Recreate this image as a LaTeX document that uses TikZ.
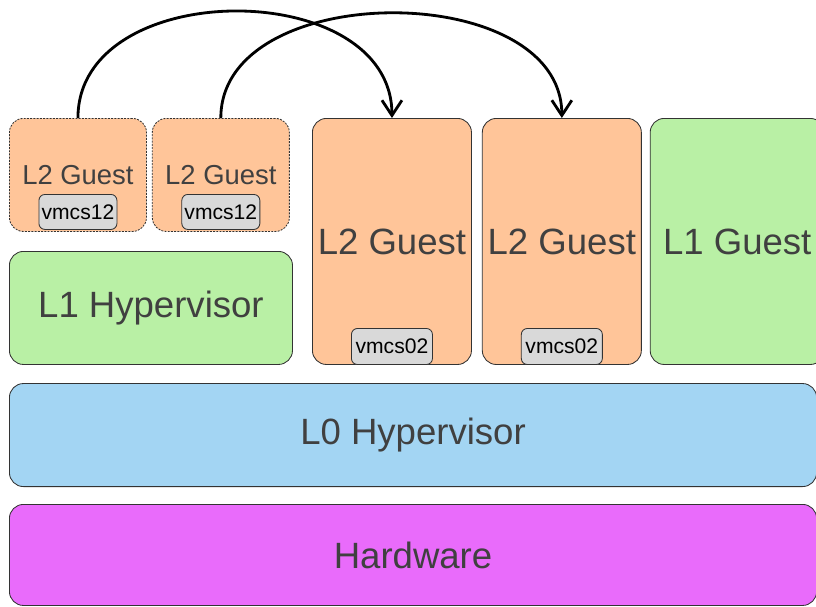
\documentclass[tikz,border=0pt]{standalone}
\usepackage{fontspec}
\setmainfont{Liberation Sans}
\usetikzlibrary{arrows.meta,positioning}
\definecolor{guestfill}{HTML}{FFC599}
\definecolor{l1fill}{HTML}{B9F0A5}
\definecolor{l0fill}{HTML}{A3D5F3}
\definecolor{hwfill}{HTML}{E96BFB}
\definecolor{vmcsfill}{HTML}{D9D9D9}
\definecolor{labelgray}{HTML}{404040}
\definecolor{edgegray}{HTML}{333333}

\begin{document}
\begin{tikzpicture}[
  x=0.025cm, y=-0.025cm,
  line/.style={draw=edgegray, line width=0.6pt},
  box/.style={line, rounded corners=0.35cm, inner sep=0pt, align=center, text=labelgray, font=\fontsize{26}{30}\selectfont},
  smallbox/.style={box, dash pattern=on 1.4pt off 0.9pt, minimum width=3.425cm, minimum height=2.825cm, font=\fontsize{19.5}{23}\selectfont},
  tallbox/.style={box, minimum width=3.975cm, minimum height=6.15cm},
  widebox/.style={box, minimum width=20.175cm},
  vmcs/.style={line, fill=vmcsfill, rounded corners=0.15cm, inner sep=0pt, text=black, font=\fontsize{15}{18}\selectfont},
  jump/.style={-{Straight Barb[length=0.38cm, width=0.5cm, line width=2pt]}, line width=2pt, black}
]
\useasboundingbox (0,0) rectangle (816,606);

% bottom layers
\node[widebox, fill=hwfill, minimum height=2.525cm, anchor=north west] (hw) at (9,504) {Hardware};
\node[widebox, fill=l0fill, minimum height=2.575cm, above=0.425cm of hw] (l0) {L0 Hypervisor};

% L1 hypervisor and its guests
\node[box, fill=l1fill, minimum width=7.075cm, minimum height=2.825cm, anchor=north west] (l1hyp) at (9,251) {L1 Hypervisor};
\node[smallbox, fill=guestfill, anchor=north west] (ltwoa) at (9,118) {L2 Guest};
\node[smallbox, fill=guestfill, right=0.125cm of ltwoa] (ltwob) {L2 Guest};
\node[vmcs, minimum width=1.95cm, minimum height=0.875cm, above=0.05cm of ltwoa.south] (vmcsa) {vmcs12};
\node[vmcs, minimum width=1.95cm, minimum height=0.875cm, above=0.05cm of ltwob.south] (vmcsb) {vmcs12};

% guests run by L0
\node[tallbox, fill=guestfill, anchor=north west] (ltwoc) at (312,118) {L2 Guest};
\node[tallbox, fill=guestfill, right=0.25cm of ltwoc] (ltwod) {L2 Guest};
\node[box, fill=l1fill, minimum width=4.35cm, minimum height=6.15cm, right=0.2cm of ltwod] (l1guest) {L1 Guest};
\node[vmcs, minimum width=2.025cm, minimum height=0.9cm, above=0pt of ltwoc.south] (vmcsc) {vmcs02};
\node[vmcs, minimum width=2.025cm, minimum height=0.9cm, above=0pt of ltwod.south] (vmcsd) {vmcs02};

\draw[jump] (ltwoa.north) to[out=90, in=90, looseness=1.16] (ltwoc.north);
\draw[jump] (ltwob.north) to[out=90, in=90, looseness=1.05] (ltwod.north);

\end{tikzpicture}
\end{document}
